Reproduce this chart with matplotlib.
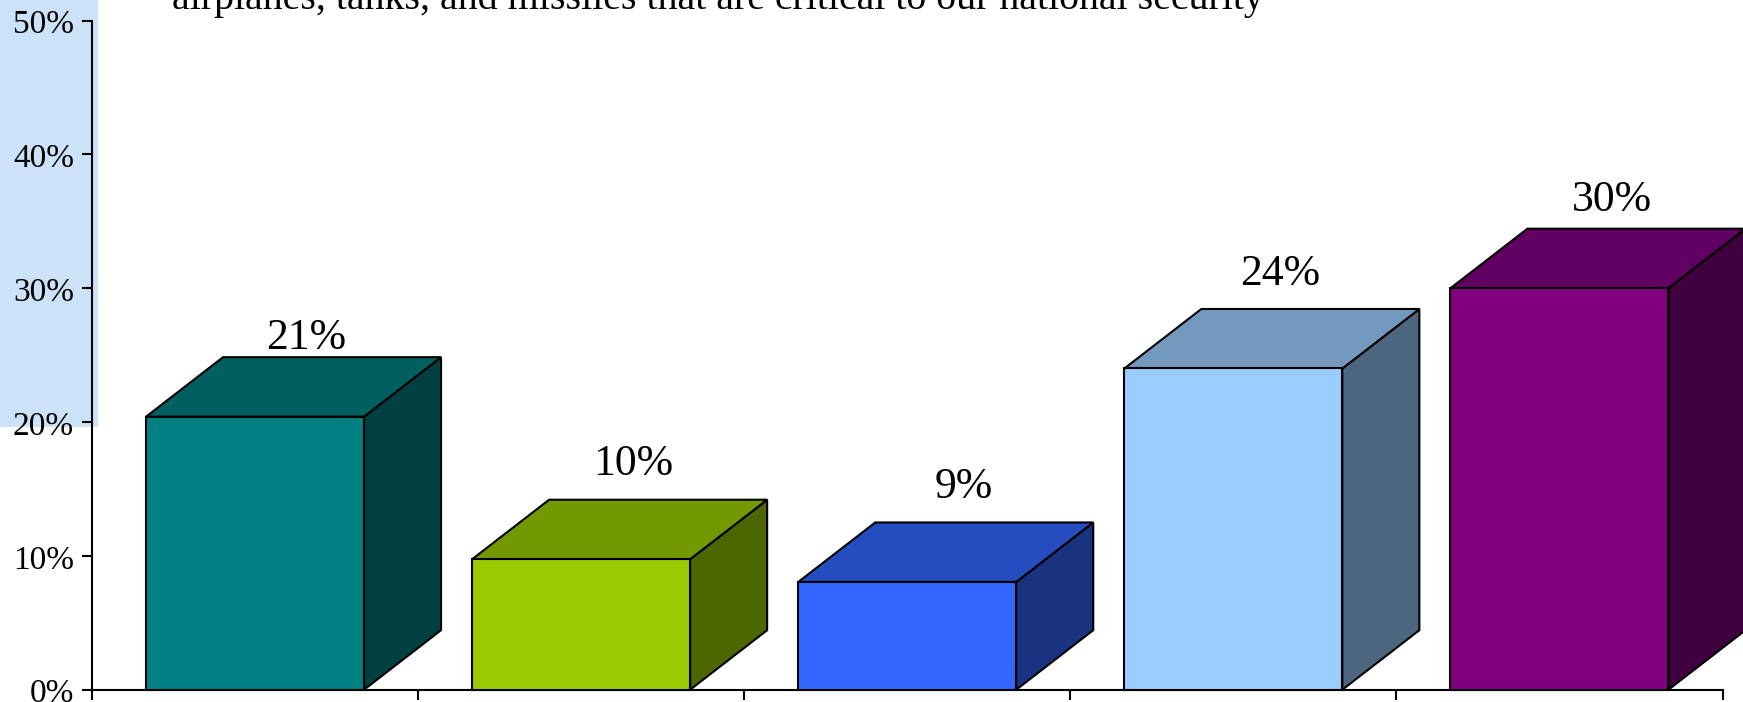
import matplotlib
matplotlib.use("Agg")
import matplotlib.pyplot as plt
from matplotlib.patches import Rectangle
from matplotlib.transforms import ScaledTranslation

plt.rcParams['font.family'] = ['Liberation Serif', 'DejaVu Serif']

W, H = 1743, 702
values = [20.4, 9.75, 8.05, 24.0, 30.0]
labels = ['21%', '10%', '9%', '24%', '30%']
front_colors = ['#008080', '#99CC00', '#3366FF', '#99CCFF', '#800080']
top_colors = ['#006060', '#739900', '#264DBF', '#7399BF', '#600060']
side_colors = ['#004040', '#4D6600', '#1A3380', '#4D6680', '#400040']
y_ticks = [0, 10, 20, 30, 40, 50]
y_tick_labels = ['0%', '10%', '20%', '30%', '40%', '50%']
caption = 'airplanes, tanks, and missiles that are critical to our national security'

# label placement relative to the back-top-centre of each bar, in pixels
label_dx_px = [13, 14, 18, 8, 14]
label_gap_px = [8, 25, 24, 24, 18]

ax_l, ax_r, ax_t, ax_b = 92, 1722.5, 20.5, 689.7
depth_x_px, depth_y_px = 77, 59.5
EDGE = 1.5

fig = plt.figure(figsize=(W / 100, H / 100), dpi=100, facecolor='white')
fig.add_artist(Rectangle((0, 1 - 426.7 / H), 98 / W, 426.7 / H,
                         transform=fig.transFigure, facecolor='#CCE2F8',
                         edgecolor='none', zorder=-5))
ax = fig.add_axes([ax_l / W, 1 - ax_b / H, (ax_r - ax_l) / W, (ax_b - ax_t) / H])
ax.patch.set_alpha(0)
n = len(values)
ax.set_xlim(0, n)
ax.set_ylim(0, 50)

ddx = depth_x_px / ((ax_r - ax_l) / n)
ddy = depth_y_px / ((ax_b - ax_t) / 50)
bar_w = 218 / ((ax_r - ax_l) / n)

for i, v in enumerate(values):
    x0, x1 = i + 0.5 - bar_w / 2, i + 0.5 + bar_w / 2
    ax.fill([x1, x1 + ddx, x1 + ddx, x1], [0, ddy, v + ddy, v],
            facecolor=side_colors[i], edgecolor='black', linewidth=EDGE,
            joinstyle='miter', clip_on=False, zorder=3)
    ax.fill([x0, x0 + ddx, x1 + ddx, x1], [v, v + ddy, v + ddy, v],
            facecolor=top_colors[i], edgecolor='black', linewidth=EDGE,
            joinstyle='miter', clip_on=False, zorder=3)
    ax.bar(i + 0.5, v, width=bar_w, facecolor=front_colors[i],
           edgecolor='black', linewidth=EDGE, clip_on=False, zorder=4)
    ax.annotate(labels[i], xy=(i + 0.5 + ddx / 2, v + ddy),
                xytext=(label_dx_px[i] * 0.72, label_gap_px[i] * 0.72),
                textcoords='offset points', ha='center', va='baseline',
                fontsize=31.5, color='black', annotation_clip=False, zorder=5)

for s in ['top', 'right']:
    ax.spines[s].set_visible(False)
for s in ['left', 'bottom']:
    ax.spines[s].set_linewidth(EDGE)
    ax.spines[s].set_zorder(2)

ax.set_xticks(range(n + 1))
ax.set_xticklabels([])
ax.set_yticks(y_ticks)
ax.set_yticklabels(y_tick_labels, fontsize=24)
ax.tick_params(axis='both', direction='out', length=7.2, width=EDGE, color='black')
ax.tick_params(axis='y', pad=5.8)
for t in ax.get_yticklabels():
    t.set_transform(t.get_transform() + ScaledTranslation(0, -1.0 / 100, fig.dpi_scale_trans))

fig.text(172 / W, 1 - 9 / H, caption, fontsize=28.7, ha='left', va='baseline', color='black')
fig.savefig('out.png', dpi=100, facecolor='white')
